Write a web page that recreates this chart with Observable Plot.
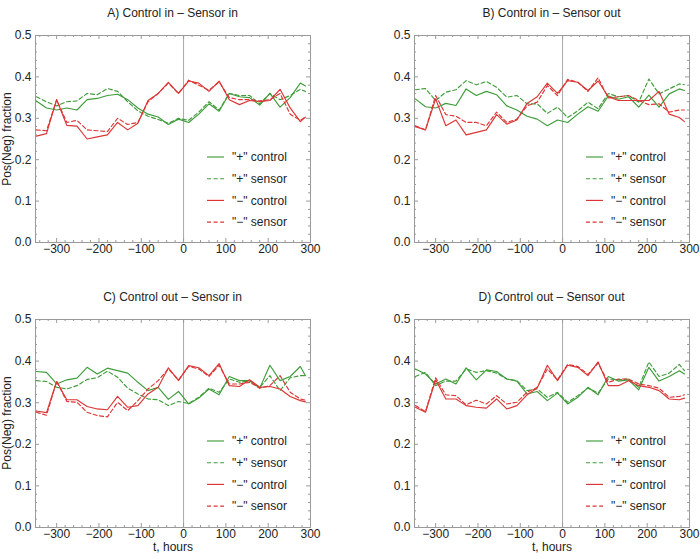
<!DOCTYPE html>
<html><head><meta charset="utf-8">
<script src="https://cdn.jsdelivr.net/npm/d3@7"></script>
<script src="https://cdn.jsdelivr.net/npm/@observablehq/plot@0.6"></script>
<style>
body{margin:0;background:#fff}
#root{position:relative;width:700px;height:559px;font-family:"Liberation Sans",Arial,Helvetica,sans-serif;color:#222;overflow:hidden}
.panel{position:absolute}
.title{position:absolute;font-size:12px;line-height:14px;white-space:nowrap;transform:translate(-50%,-50%)}
.ylab{position:absolute;font-size:12px;line-height:14px;white-space:nowrap;transform:translate(-50%,-50%) rotate(-90deg)}
.legend{position:absolute;overflow:visible}
</style>
</head><body><div id="root"></div>
<script>
// ---------- data ----------
const hours = [-348,-324,-300,-276,-252,-228,-204,-180,-156,-132,-108,-84,-60,-36,-12,12,36,60,84,108,132,156,180,204,228,252,276,288];

const titles = ["A) Control in \u2013 Sensor in","B) Control in \u2013 Sensor out","C) Control out \u2013 Sensor in","D) Control out \u2013 Sensor out"];
const seriesNames = ['"+" control','"+" sensor','"\u2212" control','"\u2212" sensor'];
const xTicks = [-300,-200,-100,0,100,200,300];
const yTicks = [0,0.1,0.2,0.3,0.4,0.5];
const yLabel = "Pos(Neg) fraction";
const xLabel = "t, hours";

const A_posControl = [0.342,0.325,0.32,0.325,0.32,0.345,0.348,0.355,0.358,0.345,0.325,0.31,0.303,0.285,0.298,0.29,0.31,0.335,0.317,0.36,0.352,0.35,0.332,0.36,0.327,0.35,0.385,0.378];
const A_posSensor  = [0.352,0.34,0.33,0.34,0.342,0.36,0.357,0.372,0.365,0.34,0.318,0.305,0.297,0.288,0.30,0.295,0.315,0.34,0.32,0.36,0.355,0.355,0.335,0.36,0.345,0.355,0.37,0.365];
const A_negControl = [0.257,0.263,0.345,0.283,0.281,0.25,0.255,0.26,0.29,0.272,0.288,0.343,0.36,0.387,0.36,0.39,0.385,0.365,0.39,0.345,0.333,0.343,0.34,0.343,0.37,0.325,0.292,0.303];
const A_negSensor  = [0.272,0.27,0.345,0.29,0.295,0.272,0.27,0.268,0.30,0.285,0.29,0.34,0.36,0.385,0.36,0.392,0.38,0.368,0.388,0.35,0.345,0.345,0.342,0.345,0.36,0.31,0.295,0.303];

const B_posControl = [0.347,0.328,0.325,0.336,0.331,0.371,0.355,0.365,0.357,0.33,0.32,0.305,0.298,0.282,0.296,0.29,0.31,0.328,0.317,0.354,0.346,0.352,0.327,0.356,0.327,0.359,0.371,0.367];
const B_posSensor  = [0.369,0.372,0.343,0.363,0.369,0.391,0.381,0.389,0.375,0.351,0.355,0.335,0.335,0.312,0.327,0.302,0.318,0.339,0.323,0.36,0.352,0.355,0.339,0.395,0.359,0.371,0.383,0.381];
const B_negControl = [0.28,0.272,0.347,0.282,0.296,0.26,0.266,0.272,0.309,0.286,0.296,0.336,0.352,0.385,0.36,0.391,0.387,0.367,0.39,0.352,0.343,0.343,0.343,0.343,0.365,0.31,0.302,0.292];
const B_negSensor  = [0.282,0.272,0.355,0.309,0.305,0.29,0.29,0.282,0.315,0.29,0.298,0.33,0.339,0.379,0.355,0.394,0.387,0.365,0.398,0.349,0.352,0.355,0.343,0.333,0.335,0.315,0.32,0.32];

const C_posControl = [0.375,0.373,0.345,0.355,0.359,0.385,0.369,0.383,0.377,0.371,0.349,0.329,0.337,0.308,0.327,0.297,0.311,0.333,0.319,0.363,0.353,0.353,0.335,0.39,0.353,0.363,0.387,0.365];
const C_posSensor  = [0.353,0.351,0.337,0.333,0.341,0.356,0.36,0.376,0.361,0.335,0.321,0.309,0.307,0.293,0.303,0.298,0.313,0.335,0.325,0.357,0.349,0.352,0.337,0.365,0.329,0.36,0.365,0.365];
const C_negControl = [0.28,0.276,0.351,0.307,0.307,0.291,0.285,0.283,0.315,0.289,0.293,0.321,0.337,0.384,0.353,0.389,0.384,0.365,0.394,0.341,0.339,0.355,0.337,0.339,0.333,0.315,0.305,0.302];
const C_negSensor  = [0.277,0.27,0.351,0.303,0.301,0.277,0.269,0.266,0.301,0.281,0.305,0.333,0.353,0.381,0.355,0.387,0.381,0.363,0.39,0.345,0.345,0.349,0.335,0.341,0.365,0.325,0.309,0.306];

const D_posControl = [0.381,0.369,0.345,0.357,0.345,0.384,0.355,0.379,0.375,0.357,0.352,0.321,0.327,0.305,0.323,0.297,0.313,0.337,0.319,0.363,0.352,0.355,0.331,0.385,0.352,0.363,0.377,0.369];
const D_posSensor  = [0.363,0.373,0.341,0.352,0.352,0.381,0.373,0.377,0.371,0.357,0.353,0.329,0.333,0.313,0.325,0.301,0.317,0.335,0.323,0.357,0.355,0.357,0.337,0.398,0.363,0.371,0.392,0.377];
const D_negControl = [0.289,0.277,0.355,0.309,0.309,0.293,0.289,0.287,0.309,0.285,0.293,0.319,0.335,0.39,0.353,0.39,0.385,0.365,0.398,0.341,0.341,0.353,0.341,0.337,0.329,0.309,0.307,0.311];
const D_negSensor  = [0.293,0.279,0.36,0.319,0.317,0.295,0.306,0.297,0.317,0.297,0.301,0.325,0.337,0.381,0.355,0.392,0.387,0.368,0.395,0.349,0.357,0.357,0.345,0.341,0.335,0.313,0.315,0.319];

// ---------- styling ----------
const GREEN = "#3f9c3a", RED = "#dc3535", DASH = "4,2.6";
const seriesStyle = [
  {color: GREEN, dash: null},
  {color: GREEN, dash: DASH},
  {color: RED, dash: null},
  {color: RED, dash: DASH}
];
const panels = [
  {title: titles[0], series: [A_posControl, A_posSensor, A_negControl, A_negSensor], left: 0,   top: 0,   width: 350, height: 280, ml: 35, mr: 40, mt: 35, mb: 38, yl: true,  xl: false},
  {title: titles[1], series: [B_posControl, B_posSensor, B_negControl, B_negSensor], left: 350, top: 0,   width: 350, height: 280, ml: 64, mr: 11, mt: 35, mb: 38, yl: false, xl: false},
  {title: titles[2], series: [C_posControl, C_posSensor, C_negControl, C_negSensor], left: 0,   top: 284, width: 350, height: 275, ml: 35, mr: 40, mt: 35, mb: 32, yl: true,  xl: true},
  {title: titles[3], series: [D_posControl, D_posSensor, D_negControl, D_negSensor], left: 350, top: 284, width: 350, height: 275, ml: 64, mr: 11, mt: 35, mb: 32, yl: false, xl: true}
];

const xMinor = d3.range(-340, 301, 20).filter(d => d % 100 !== 0);
const yMinor = d3.range(0, 0.5001, 0.02).map(d => +d.toFixed(2)).filter(d => Math.round(d*100) % 10 !== 0);
const fmtX = d => d < 0 ? "\u2212" + Math.abs(d) : String(d);
const root = document.getElementById("root");

panels.forEach(p => {
  const fw = p.width - p.ml - p.mr;
  const fh = p.height - p.mt - p.mb;
  const tickStroke = "#9a9a9a";
  const marks = [
    Plot.ruleX([0], {stroke: "#a8a8a8", strokeWidth: 1}),
    // inward frame ticks
    Plot.tickX(xTicks, {x: d => d, insetTop: fh - 4, stroke: tickStroke}),
    Plot.tickX(xMinor, {x: d => d, insetTop: fh - 2, stroke: tickStroke}),
    Plot.tickX(xTicks, {x: d => d, insetBottom: fh - 4, stroke: tickStroke}),
    Plot.tickX(xMinor, {x: d => d, insetBottom: fh - 2, stroke: tickStroke}),
    Plot.tickY(yTicks, {y: d => d, insetRight: fw - 4, stroke: tickStroke}),
    Plot.tickY(yMinor, {y: d => d, insetRight: fw - 2, stroke: tickStroke}),
    Plot.tickY(yTicks, {y: d => d, insetLeft: fw - 4, stroke: tickStroke}),
    Plot.tickY(yMinor, {y: d => d, insetLeft: fw - 2, stroke: tickStroke}),
    Plot.frame({stroke: "#9a9a9a", strokeWidth: 1}),
    Plot.axisX(xTicks, {tickSize: 0, tickPadding: 2, tickFormat: fmtX, label: null, fontSize: 12}),
    Plot.axisY(yTicks, {tickSize: 0, tickPadding: 4, tickFormat: d3.format(".1f"), label: null, fontSize: 12})
  ];
  p.series.forEach((vals, i) => {
    const rows = hours.map((t, j) => ({t, v: vals[j]}));
    marks.push(Plot.line(rows, {x: "t", y: "v", stroke: seriesStyle[i].color, strokeWidth: 1.15,
      strokeDasharray: seriesStyle[i].dash || undefined}));
  });
  if (p.xl) marks.push(Plot.text([xLabel], {text: d => d, frameAnchor: "bottom", dy: 23, fontSize: 12, fill: "#222"}));

  const chart = Plot.plot({
    width: p.width, height: p.height,
    marginLeft: p.ml, marginRight: p.mr, marginTop: p.mt, marginBottom: p.mb,
    x: {domain: [-350, 300]},
    y: {domain: [0, 0.5]},
    style: {fontFamily: '"Liberation Sans", Arial, sans-serif', fontSize: "12px", color: "#222", background: "transparent"},
    marks
  });
  const wrap = document.createElement("div");
  wrap.className = "panel";
  wrap.style.left = p.left + "px";
  wrap.style.top = p.top + "px";
  wrap.appendChild(chart);
  root.appendChild(wrap);

  // title
  const t = document.createElement("div");
  t.className = "title";
  t.textContent = p.title;
  t.style.left = (p.left + p.ml + fw / 2) + "px";
  t.style.top = (p.top + p.mt - 22) + "px";
  root.appendChild(t);

  // y-axis label
  if (p.yl) {
    const yl = document.createElement("div");
    yl.className = "ylab";
    yl.textContent = yLabel;
    yl.style.left = (p.left + 7) + "px";
    yl.style.top = (p.top + p.mt + fh / 2) + "px";
    root.appendChild(yl);
  }

  // legend (inside frame)
  const lx = p.left + p.ml + 172, ly = p.top + p.mt + 122;
  const svg = d3.select(root).append("svg").attr("class", "legend")
    .attr("width", 110).attr("height", 80)
    .style("left", lx + "px").style("top", (ly - 10) + "px");
  seriesNames.forEach((name, i) => {
    const y = 10 + i * 21.7;
    svg.append("line").attr("x1", 0).attr("x2", 17).attr("y1", y).attr("y2", y)
      .attr("stroke", seriesStyle[i].color).attr("stroke-width", 1.15)
      .attr("stroke-dasharray", seriesStyle[i].dash);
    svg.append("text").attr("x", 25).attr("y", y).attr("dy", "0.35em")
      .attr("font-size", 12).attr("fill", "#222")
      .attr("font-family", '"Liberation Sans", Arial, sans-serif').text(name);
  });
});
</script>
</body></html>
